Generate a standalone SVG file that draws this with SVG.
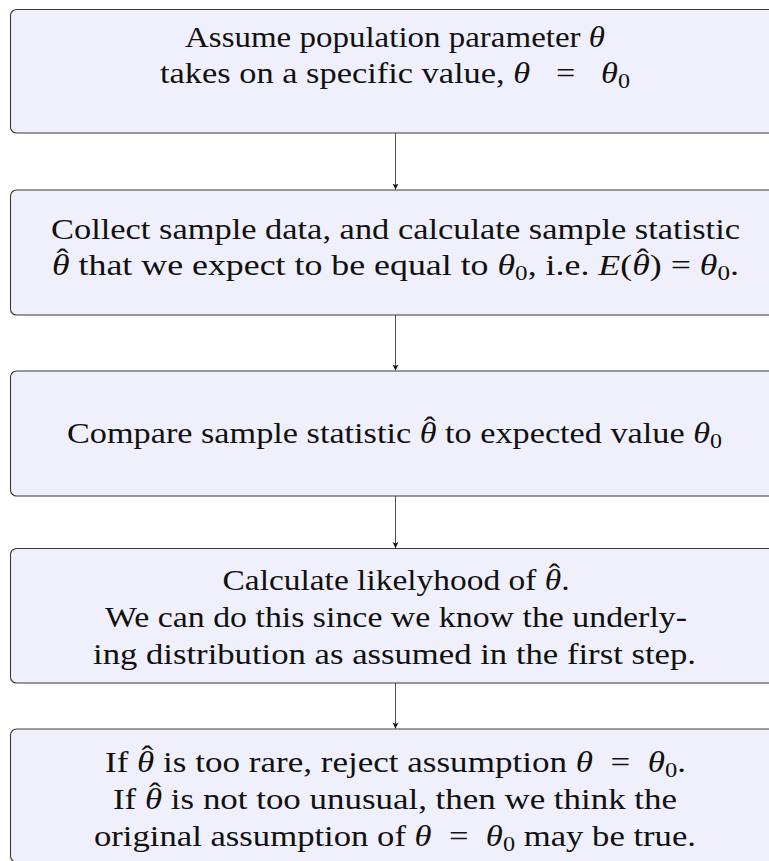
<svg xmlns="http://www.w3.org/2000/svg" width="769" height="861" viewBox="0 0 769 861">
<style>
.box{fill:#f0f0fc;stroke:#3a3a3a;stroke-width:1.1}
.t{font-family:'Liberation Serif', 'Times New Roman', serif;font-size:30px;fill:#111;text-anchor:middle}
.m{font-style:italic}
.s{font-size:21px;font-style:normal}
.conn{stroke:#555;stroke-width:1;fill:none}
</style>
<defs>
<marker id="ah" markerWidth="8" markerHeight="8" refX="6" refY="3" orient="auto" markerUnits="userSpaceOnUse">
<path d="M0,0 L6,3 L0,6 L1.5,3 Z" fill="#111"/>
</marker>
</defs>
<rect width="769" height="861" fill="#fff"/>
<g id="connectors">
<line class="conn" x1="395.5" y1="133" x2="395.5" y2="189.5" marker-end="url(#ah)"/>
<line class="conn" x1="395.5" y1="315" x2="395.5" y2="370.5" marker-end="url(#ah)"/>
<line class="conn" x1="395.5" y1="496" x2="395.5" y2="548" marker-end="url(#ah)"/>
<line class="conn" x1="395.5" y1="683" x2="395.5" y2="728.5" marker-end="url(#ah)"/>
</g>
<g id="n1">
<rect class="box" x="10.5" y="9.5" width="769" height="123.5" rx="6"/>
<text class="t" x="395" y="47" textLength="420" lengthAdjust="spacingAndGlyphs">Assume population parameter <tspan class="m">θ</tspan></text>
<text class="t" x="395" y="83" textLength="470" lengthAdjust="spacingAndGlyphs">takes on a specific value, <tspan class="m">θ</tspan>&#160;&#160;&#160;=&#160;&#160;&#160;<tspan class="m">θ</tspan><tspan class="s" dy="5">0</tspan></text>
</g>
<g id="n2">
<rect class="box" x="10.5" y="190" width="769" height="125" rx="6"/>
<text class="t" x="395.5" y="239" textLength="689" lengthAdjust="spacingAndGlyphs">Collect sample data, and calculate sample statistic</text>
<text class="t" x="395.5" y="275" textLength="687" lengthAdjust="spacingAndGlyphs"><tspan class="m">θ</tspan><tspan dx="-11" dy="-6">ˆ</tspan><tspan dx="1" dy="6"> that we expect to be equal to </tspan><tspan class="m">θ</tspan><tspan class="s" dy="5">0</tspan><tspan dy="-5">, i.e. </tspan><tspan class="m">E</tspan>(<tspan class="m">θ</tspan><tspan dx="-11" dy="-6">ˆ</tspan><tspan dx="1" dy="6">) = </tspan><tspan class="m">θ</tspan><tspan class="s" dy="5">0</tspan><tspan dy="-5">.</tspan></text>
</g>
<g id="n3">
<rect class="box" x="10.5" y="371" width="769" height="125" rx="6"/>
<text class="t" x="394.5" y="443" textLength="655" lengthAdjust="spacingAndGlyphs">Compare sample statistic <tspan class="m">θ</tspan><tspan dx="-11" dy="-6">ˆ</tspan><tspan dx="1" dy="6"> to expected value </tspan><tspan class="m">θ</tspan><tspan class="s" dy="5">0</tspan></text>
</g>
<g id="n4">
<rect class="box" x="10.5" y="548.5" width="769" height="134.5" rx="6"/>
<text class="t" x="396" y="590" textLength="347" lengthAdjust="spacingAndGlyphs">Calculate likelyhood of <tspan class="m">θ</tspan><tspan dx="-11" dy="-6">ˆ</tspan><tspan dx="1" dy="6">.</tspan></text>
<text class="t" x="396" y="627" textLength="582" lengthAdjust="spacingAndGlyphs">We can do this since we know the underly-</text>
<text class="t" x="394.5" y="664" textLength="603" lengthAdjust="spacingAndGlyphs">ing distribution as assumed in the first step.</text>
</g>
<g id="n5">
<rect class="box" x="10.5" y="729" width="769" height="133" rx="6"/>
<text class="t" x="395.5" y="772" textLength="581" lengthAdjust="spacingAndGlyphs">If <tspan class="m">θ</tspan><tspan dx="-11" dy="-6">ˆ</tspan><tspan dx="1" dy="6"> is too rare, reject assumption </tspan><tspan class="m">θ</tspan>&#160;&#160;=&#160;&#160;<tspan class="m">θ</tspan><tspan class="s" dy="5">0</tspan><tspan dy="-5">.</tspan></text>
<text class="t" x="395" y="809" textLength="564" lengthAdjust="spacingAndGlyphs">If <tspan class="m">θ</tspan><tspan dx="-11" dy="-6">ˆ</tspan><tspan dx="1" dy="6"> is not too unusual, then we think the</tspan></text>
<text class="t" x="395" y="846" textLength="602" lengthAdjust="spacingAndGlyphs">original assumption of <tspan class="m">θ</tspan>&#160;&#160;=&#160;&#160;<tspan class="m">θ</tspan><tspan class="s" dy="5">0</tspan><tspan dy="-5"> may be true.</tspan></text>
</g>
</svg>
